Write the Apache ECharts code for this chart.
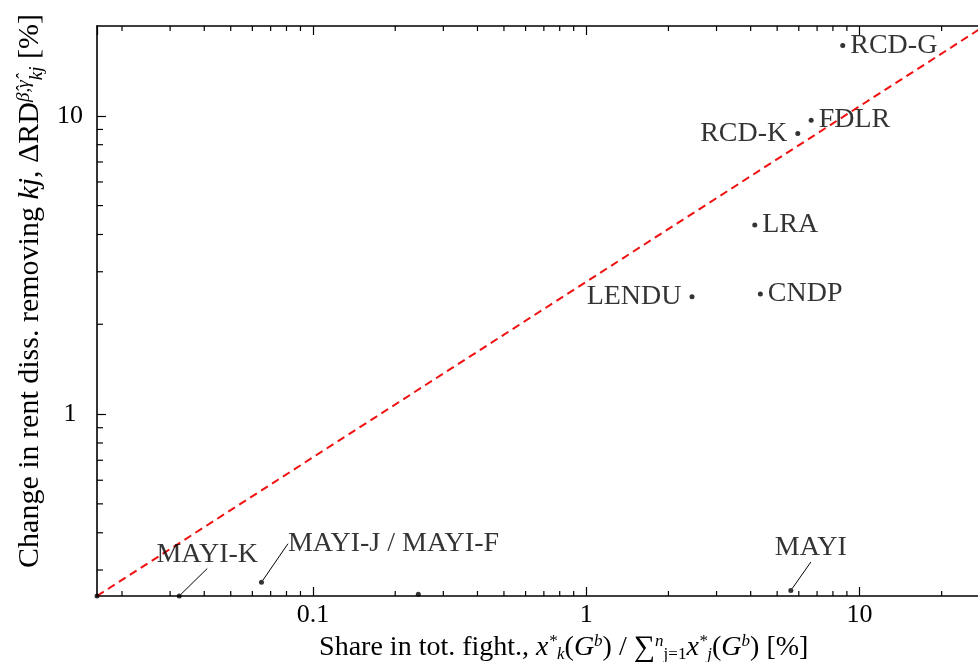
<!DOCTYPE html>
<html>
<head>
<meta charset="utf-8">
<script src="https://cdn.jsdelivr.net/npm/echarts@6/dist/echarts.min.js"></script>
<style>
  html, body { margin: 0; padding: 0; background: #fff; }
  #chart { width: 978px; height: 662px; }
</style>
</head>
<body>
<div id="chart"></div>
<script>
// ---- data ----
const GROUP_NAMES = ['RCD-G', 'FDLR', 'RCD-K', 'LRA', 'CNDP', 'LENDU', 'MAYI', 'MAYI-K', 'MAYI-J / MAYI-F', '', ''];
const FIGHT_SHARE = [8.69, 6.66, 5.95, 4.14, 4.34, 2.44, 5.61, 0.0324, 0.0648, 0.243, 0.0162];   // x, %
const RENT_CHANGE = [17.2, 9.67, 8.73, 4.30, 2.525, 2.474, 0.256, 0.2455, 0.273, 0.249, 0.2455]; // y, %

// axis ranges
const X_MIN = 0.0162, X_MAX = 28.7;
const Y_MIN = 0.2455, Y_MAX = 20;

// reference line (diagonal of the plot box)
const DIAG_X = [X_MIN, X_MAX];
const DIAG_Y = [Y_MIN, Y_MAX];

// minor tick values
const X_MINOR = [0.02, 0.03, 0.04, 0.05, 0.06, 0.07, 0.08, 0.09, 0.2, 0.3, 0.4, 0.5, 0.6, 0.7, 0.8, 0.9, 2, 3, 4, 5, 6, 7, 8, 9, 20];
const Y_MINOR = [0.3, 0.4, 0.5, 0.6, 0.7, 0.8, 0.9, 2, 3, 4, 5, 6, 7, 8, 9];

// ---- label placement (style config) ----
const LABEL_SIDE = { 'RCD-K': 'left', 'LENDU': 'left', 'MAYI': 'top', 'MAYI-K': 'top', 'MAYI-J / MAYI-F': 'top' };
const LABEL_SHIFT = { 'MAYI': [20, -21], 'MAYI-K': [28, -20], 'MAYI-J / MAYI-F': [132, -17] };

const FONT = 'Liberation Serif';
const INK = '#000';

const points = GROUP_NAMES.map((n, i) => {
  const side = LABEL_SIDE[n] || 'right';
  const item = {
    name: n,
    value: [FIGHT_SHARE[i], RENT_CHANGE[i]],
    label: { show: n !== '', position: side, distance: side === 'left' ? 8 : 5 }
  };
  if (LABEL_SHIFT[n]) item.labelLine = { show: true, lineStyle: { color: '#000', width: 1 } };
  return item;
});

function tickSeries(values, fixed, dir, len) {
  return {
    type: 'custom',
    silent: true,
    clip: false,
    z: 5,
    data: values.map(v => dir === 'right' ? [fixed, v] : [v, fixed]),
    renderItem: function (params, api) {
      const p = api.coord([api.value(0), api.value(1)]);
      let x2 = p[0], y2 = p[1];
      if (dir === 'up') y2 -= len;
      else if (dir === 'down') y2 += len;
      else x2 += len;
      return { type: 'line', shape: { x1: p[0], y1: p[1], x2: x2, y2: y2 }, style: { stroke: '#000', lineWidth: 1.2 } };
    }
  };
}

function makeRich(size, lh, small) {
  return {
    t: { fontFamily: FONT, fontSize: size, lineHeight: lh, color: INK },
    i: { fontFamily: FONT, fontSize: size, lineHeight: lh, fontStyle: 'italic', color: INK },
    sum: { fontFamily: FONT, fontSize: size + 2, lineHeight: lh, color: INK },
    sup: { fontFamily: FONT, fontSize: small, lineHeight: small, verticalAlign: 'top', fontStyle: 'italic', color: INK },
    sub: { fontFamily: FONT, fontSize: small, lineHeight: small, verticalAlign: 'bottom', fontStyle: 'italic', color: INK },
    subr: { fontFamily: FONT, fontSize: small, lineHeight: small, verticalAlign: 'bottom', color: INK }
  };
}

const chart = echarts.init(document.getElementById('chart'), null, { renderer: 'canvas' });
const fmt = v => String(Math.round(v * 1000) / 1000);

chart.setOption({
  animation: false,
  backgroundColor: '#fff',
  grid: { left: 97, top: 26, bottom: 66, right: -6.5, outerBoundsMode: 'none', containLabel: false },
  xAxis: [{
    type: 'log', min: X_MIN, max: X_MAX, position: 'bottom',
    name: '{t|Share in tot. fight., }{i|x}{sup|*}{sub|k}{t|(}{i|G}{sup|b}{t|) / }{sum|∑}{sup|n}{subr|j=1}{i|x}{sup|*}{sub|j}{t|(}{i|G}{sup|b}{t|) [%]}',
    nameLocation: 'middle', nameGap: 13,
    nameTextStyle: { rich: makeRich(28, 30, 17), padding: [0, 0, 0, 46] },
    axisLine: { lineStyle: { color: '#000', width: 1.6 } },
    axisTick: { show: true, inside: true, length: 9, lineStyle: { color: '#000', width: 1.2 } },
    axisLabel: { fontFamily: FONT, fontSize: 26, color: INK, margin: 6, formatter: fmt, showMinLabel: false, showMaxLabel: false },
    splitLine: { show: false }
  }, {
    type: 'log', min: X_MIN, max: X_MAX, position: 'top',
    axisLine: { lineStyle: { color: '#000', width: 1.6 } },
    axisTick: { show: true, inside: true, length: 9, lineStyle: { color: '#000', width: 1.2 } },
    axisLabel: { show: false },
    splitLine: { show: false }
  }],
  yAxis: [{
    type: 'log', min: Y_MIN, max: Y_MAX, position: 'left',
    name: '{t|Change in rent diss. removing }{i|kj}{t|, ΔRD}{sup|β̂,γ̂}{sub|kj}{t| [%]}',
    nameLocation: 'middle', nameGap: 51, nameRotate: 90,
    nameTextStyle: { rich: makeRich(30, 32, 19), padding: [0, 0, 0, 40] },
    axisLine: { lineStyle: { color: '#000', width: 1.6 } },
    axisTick: { show: true, inside: true, length: 9, lineStyle: { color: '#000', width: 1.2 } },
    axisLabel: { fontFamily: FONT, fontSize: 26, color: INK, margin: 27, align: 'center', formatter: fmt, showMinLabel: false, showMaxLabel: false },
    splitLine: { show: false }
  }],
  series: [
    {
      type: 'line',
      data: DIAG_X.map((x, i) => [x, DIAG_Y[i]]),
      symbol: 'none',
      silent: true,
      lineStyle: { color: '#f01010', width: 2, type: [8, 5] },
      z: 3
    },
    tickSeries(X_MINOR, Y_MIN, 'up', 5),
    tickSeries(X_MINOR, Y_MAX, 'down', 5),
    tickSeries(Y_MINOR, X_MIN, 'right', 6),
    {
      type: 'scatter',
      data: points,
      symbol: 'circle',
      symbolSize: 5,
      clip: false,
      z: 10,
      itemStyle: { color: '#000' },
      label: { show: true, formatter: '{b}', fontFamily: FONT, fontSize: 28, color: INK },
      labelLayout: function (params) {
        const n = GROUP_NAMES[params.dataIndex];
        const s = LABEL_SHIFT[n];
        return s ? { dx: s[0], dy: s[1] } : {};
      }
    }
  ]
});
</script>
</body>
</html>
